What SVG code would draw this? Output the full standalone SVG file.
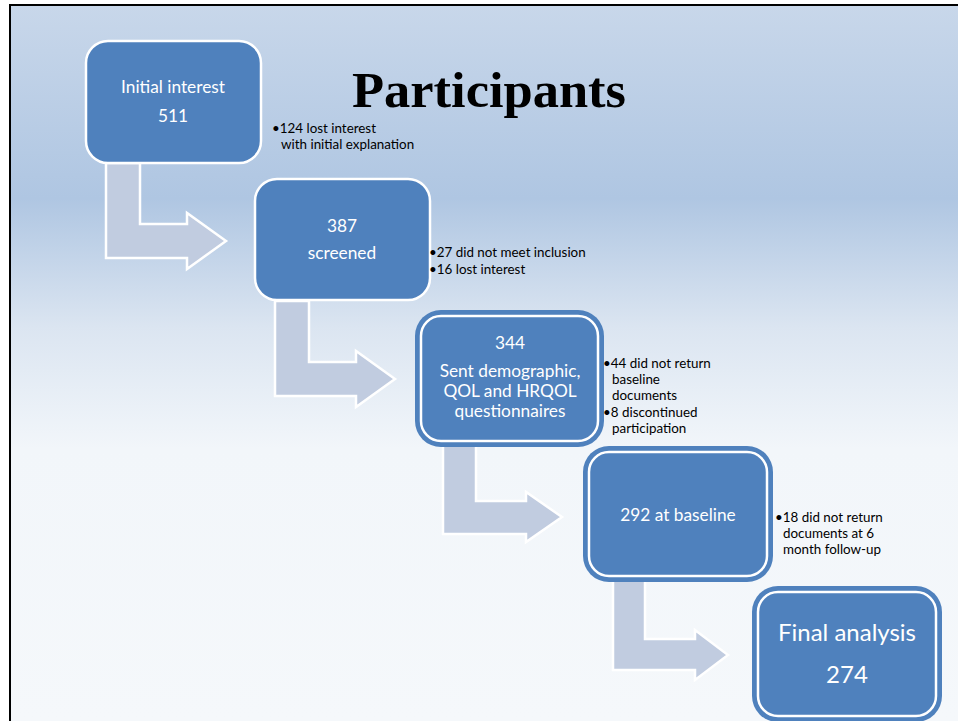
<svg xmlns="http://www.w3.org/2000/svg" width="958" height="721" viewBox="0 0 958 721">
<defs>
<linearGradient id="bg" x1="0" y1="0" x2="0" y2="1">
<stop offset="0" stop-color="#c8d7ea"/>
<stop offset="0.27" stop-color="#afc6e2"/>
<stop offset="0.45" stop-color="#dbe5f1"/>
<stop offset="0.62" stop-color="#f2f6fa"/>
<stop offset="1" stop-color="#f5f8fb"/>
</linearGradient>
<style>
.box{fill:#4f81bd;stroke:#ffffff;stroke-width:2.5}
.outer{fill:#4f81bd;stroke:none}
.arrow{fill:#c1cce0;stroke:#ffffff;stroke-width:2.5;stroke-linejoin:miter}
.nt{font-family:Lato,"Open Sans",sans-serif;fill:#ffffff;text-anchor:middle;font-size:17.3px}
.side{font-family:Lato,"Open Sans",sans-serif;fill:#000000;font-size:13.4px}
.title{font-family:"Liberation Serif",serif;font-weight:bold;font-size:50px;fill:#000000}
</style>
</defs>
<rect x="0" y="0" width="958" height="721" fill="#ffffff"/>
<rect x="10" y="5" width="948" height="716" fill="url(#bg)"/>
<line x1="9" y1="5" x2="958" y2="5" stroke="#000" stroke-width="2"/>
<line x1="10" y1="4" x2="10" y2="721" stroke="#000" stroke-width="2"/>

<text class="title" x="352" y="107" textLength="274" lengthAdjust="spacingAndGlyphs">Participants</text>

<g id="connectors">
<polygon class="arrow" points="106,163 140,163 140,224 187,224 187,213 226,241 187,269 187,258 106,258"/>
<polygon class="arrow" points="275,301 309,301 309,362 356,362 356,351 395,379 356,407 356,396 275,396"/>
<polygon class="arrow" points="443,445 476,445 476,501 526,501 526,492 562,517 526,542 526,534 443,534"/>
<polygon class="arrow" points="613,580 645,580 645,639 695,639 695,630 728,655 695,680 695,670 613,670"/>
</g>

<g id="node1">
<rect class="box" x="86" y="41" width="175" height="122" rx="22"/>
<text class="nt" x="173" y="93">Initial interest</text>
<text class="nt" x="173" y="122">511</text>
</g>
<g id="note1">
<text class="side" x="272" y="133">•124 lost interest</text>
<text class="side" x="281" y="149">with initial explanation</text>
</g>

<g id="node2">
<rect class="box" x="255" y="179" width="175" height="121" rx="22"/>
<text class="nt" x="342" y="232">387</text>
<text class="nt" x="342" y="259">screened</text>
</g>
<g id="note2">
<text class="side" x="429" y="257">•27 did not meet inclusion</text>
<text class="side" x="429" y="274">•16 lost interest</text>
</g>

<g id="node3">
<rect class="outer" x="415" y="310" width="189" height="137" rx="26"/>
<rect class="box" x="421" y="316" width="177" height="125" rx="20"/>
<text class="nt" x="510" y="349">344</text>
<text class="nt" x="510" y="377">Sent demographic,</text>
<text class="nt" x="510" y="397">QOL and HRQOL</text>
<text class="nt" x="510" y="417">questionnaires</text>
</g>
<g id="note3">
<text class="side" x="603" y="368">•44 did not return</text>
<text class="side" x="612" y="384">baseline</text>
<text class="side" x="612" y="400">documents</text>
<text class="side" x="603" y="417">•8 discontinued</text>
<text class="side" x="612" y="433">participation</text>
</g>

<g id="node4">
<rect class="outer" x="583" y="446" width="190" height="136" rx="26"/>
<rect class="box" x="589" y="452" width="178" height="124" rx="20"/>
<text class="nt" x="678" y="521">292 at baseline</text>
</g>
<g id="note4">
<text class="side" x="775" y="522">•18 did not return</text>
<text class="side" x="783" y="538">documents at 6</text>
<text class="side" x="783" y="554">month follow-up</text>
</g>

<g id="node5">
<rect class="outer" x="752" y="586" width="190" height="136" rx="26"/>
<rect class="box" x="758" y="592" width="178" height="124" rx="20"/>
<text class="nt" x="847" y="641" style="font-size:24px">Final analysis</text>
<text class="nt" x="847" y="683" style="font-size:24px">274</text>
</g>
</svg>
